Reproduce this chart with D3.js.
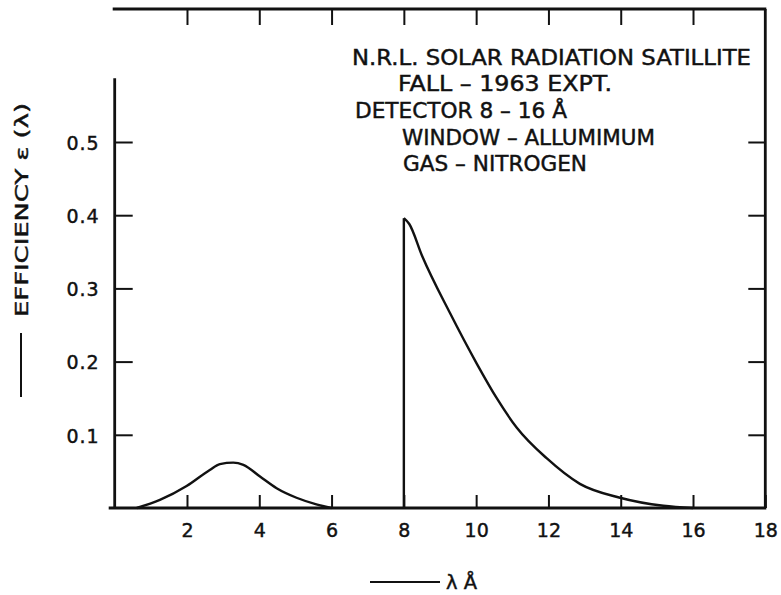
<!DOCTYPE html>
<html>
<head>
<meta charset="utf-8">
<script src="https://cdn.jsdelivr.net/npm/d3@7"></script>
<style>
  html, body { margin: 0; padding: 0; background: #fff; }
  svg { display: block; }
  text { font-family: "DejaVu Sans", sans-serif; fill: #111; stroke: #111; stroke-width: 0.45px; }
</style>
</head>
<body>
<svg id="chart" width="781" height="595"></svg>
<script>
// ---- data ----
const xTicks = [2, 4, 6, 8, 10, 12, 14, 16, 18];
const yTicks = [0.1, 0.2, 0.3, 0.4, 0.5];
// low-energy bump (lambda in Angstrom, efficiency)
const bumpX = [0.61, 1.25, 1.99, 2.63, 2.91, 3.28, 3.56, 4.02, 4.48, 5.03, 5.58, 6.0];
const bumpY = [0.0, 0.011, 0.030, 0.052, 0.060, 0.062, 0.059, 0.043, 0.027, 0.014, 0.005, 0.0];
// detector 8-16 A response
const detX = [8.0, 8.15, 8.5, 9.28, 10.02, 10.57, 11.12, 11.95, 12.87, 13.98, 15.18, 16.0];
const detY = [0.396, 0.388, 0.345, 0.266, 0.197, 0.150, 0.110, 0.068, 0.033, 0.014, 0.003, 0.0];
const edgeX = 8.0;
const notes = [
  "N.R.L. SOLAR RADIATION SATILLITE",
  "FALL \u2013 1963 EXPT.",
  "DETECTOR 8 \u2013 16 \u00C5",
  "WINDOW \u2013 ALLUMIMUM",
  "GAS \u2013 NITROGEN"
];
const yTitle = "EFFICIENCY \u03B5 (\u03BB)";
const xTitle = "\u03BB \u00C5";

// ---- frame values ----
const yMax = 0.6817;      // value at top border
const yLeftTop = 0.587;   // left axis line stops here

const svg = d3.select("#chart");
const x = d3.scaleLinear().domain([0, 18]).range([114.7, 765.3]);
const y = d3.scaleLinear().domain([0, 0.5]).range([508, 142]);

const ink = "#111";

// frame
const frame = svg.append("g").attr("stroke", ink).attr("fill", "none").attr("stroke-width", 2.8);
frame.append("line").attr("x1", x(0) - 2).attr("x2", x(18) + 1).attr("y1", y(yMax)).attr("y2", y(yMax));
frame.append("line").attr("x1", x(18)).attr("x2", x(18)).attr("y1", y(yMax)).attr("y2", y(0));
frame.append("line").attr("x1", x(0) - 6).attr("x2", x(18) + 1).attr("y1", y(0)).attr("y2", y(0));
frame.append("line").attr("x1", x(0)).attr("x2", x(0)).attr("y1", y(0)).attr("y2", y(yLeftTop));

// bottom axis (inward ticks)
const gx = svg.append("g").attr("transform", `translate(0,${y(0)})`)
  .call(d3.axisBottom(x).tickValues(xTicks).tickSize(-13).tickPadding(16).tickFormat(d3.format("d")));
gx.select(".domain").remove();
gx.selectAll("line").attr("stroke", ink).attr("stroke-width", 2);
gx.selectAll("text").attr("font-size", 19).attr("fill", ink).attr("font-family", "DejaVu Sans");

// top axis (ticks only)
const gt = svg.append("g").attr("transform", `translate(0,${y(yMax)})`)
  .call(d3.axisTop(x).tickValues(xTicks.slice(0, -1)).tickSize(-16).tickFormat(""));
gt.select(".domain").remove();
gt.selectAll("line").attr("stroke", ink).attr("stroke-width", 2);

// left axis (inward ticks)
const gy = svg.append("g").attr("transform", `translate(${x(0)},0)`)
  .call(d3.axisLeft(y).tickValues(yTicks).tickSize(-18).tickPadding(15).tickFormat(d3.format(".1f")));
gy.select(".domain").remove();
gy.selectAll("line").attr("stroke", ink).attr("stroke-width", 2);
gy.selectAll("text").attr("font-size", 19).attr("fill", ink).attr("letter-spacing", 1)
  .attr("font-family", "DejaVu Sans").attr("dy", "0.38em");

// right axis (ticks only)
const gr = svg.append("g").attr("transform", `translate(${x(18)},0)`)
  .call(d3.axisRight(y).tickValues(yTicks).tickSize(-17).tickFormat(""));
gr.select(".domain").remove();
gr.selectAll("line").attr("stroke", ink).attr("stroke-width", 2);

// curves
const line = d3.line().x(d => x(d[0])).y(d => y(d[1])).curve(d3.curveMonotoneX);
svg.append("path")
  .datum(bumpX.map((v, i) => [v, bumpY[i]]))
  .attr("d", line).attr("fill", "none").attr("stroke", ink).attr("stroke-width", 2.4);
svg.append("line")
  .attr("x1", x(edgeX)).attr("x2", x(edgeX)).attr("y1", y(0)).attr("y2", y(detY[0]))
  .attr("stroke", ink).attr("stroke-width", 2.4);
svg.append("path")
  .datum(detX.map((v, i) => [v, detY[i]]))
  .attr("d", line).attr("fill", "none").attr("stroke", ink).attr("stroke-width", 2.4);

// annotation block
const noteLayout = [
  { x: 352, y: 65, len: 399 },
  { x: 398, y: 91, len: 214 },
  { x: 355, y: 118, len: 212 },
  { x: 402, y: 145, len: 253 },
  { x: 403, y: 171, len: 184 }
];
svg.append("g").selectAll("text").data(notes).join("text")
  .attr("x", (d, i) => noteLayout[i].x)
  .attr("y", (d, i) => noteLayout[i].y)
  .attr("textLength", (d, i) => noteLayout[i].len)
  .attr("lengthAdjust", "spacingAndGlyphs")
  .attr("font-size", 21)
  .text(d => d);

// y title
svg.append("line").attr("x1", 21).attr("x2", 21).attr("y1", 333).attr("y2", 397)
  .attr("stroke", ink).attr("stroke-width", 2);
svg.append("text")
  .attr("transform", "translate(28,210) rotate(-90)")
  .attr("text-anchor", "middle")
  .attr("font-size", 18)
  .attr("textLength", 214).attr("lengthAdjust", "spacingAndGlyphs")
  .text(yTitle);

// x title
svg.append("line").attr("x1", 370).attr("x2", 440).attr("y1", 582).attr("y2", 582)
  .attr("stroke", ink).attr("stroke-width", 2);
svg.append("text")
  .attr("x", 446).attr("y", 589)
  .attr("font-size", 19)
  .attr("textLength", 31).attr("lengthAdjust", "spacingAndGlyphs")
  .text(xTitle);
</script>
</body>
</html>
